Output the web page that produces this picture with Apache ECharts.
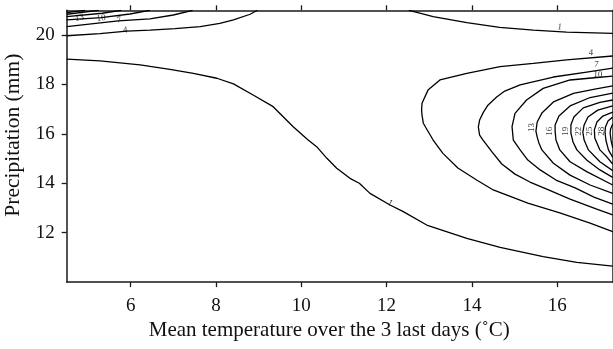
<!DOCTYPE html>
<html>
<head>
<meta charset="utf-8">
<script src="https://cdn.jsdelivr.net/npm/echarts@6/dist/echarts.min.js"></script>
<style>html,body{margin:0;padding:0;background:#fff;}#c{width:613px;height:349px;}</style>
</head>
<body>
<div id="c"></div>
<script>
// ---- data ----
const xTicks = [6, 8, 10, 12, 14, 16];
const yTicks = [12, 14, 16, 18, 20];
const xRange = [4.5, 17.3];
const yRange = [10, 21];

// contour polylines, [temperature, precipitation]
const contour1Lower = [[4.50,19.02],[5.28,18.95],[6.22,18.79],[6.92,18.61],[7.47,18.45],[8.02,18.25],[8.41,18.02],[8.87,17.57],[9.34,17.10],[9.81,16.29],[10.16,15.75],[10.36,15.48],[10.60,15.01],[10.83,14.61],[11.14,14.20],[11.36,14.00],[11.61,13.59],[12.08,13.12],[12.39,12.85],[12.94,12.31],[13.88,11.77],[14.66,11.41],[15.67,11.03],[16.46,10.80],[17.30,10.65]];
const contour1Upper = [[12.52,21.00],[12.80,20.88],[13.09,20.74],[13.88,20.50],[14.65,20.31],[15.44,20.20],[16.22,20.12],[17.30,20.07]];
const contour4Right = [[17.30,19.15],[16.22,18.99],[15.44,18.85],[14.66,18.72],[13.88,18.45],[13.25,18.18],[12.97,17.77],[12.83,17.24],[12.82,16.96],[12.83,16.76],[12.86,16.43],[13.09,15.75],[13.32,15.21],[13.67,14.62],[14.11,14.13],[14.50,13.73],[15.31,13.20],[16.06,12.80],[16.77,12.39],[17.30,12.04]];
const contour7Right = [[17.30,18.66],[16.69,18.50],[15.91,18.30],[15.13,17.98],[14.77,17.73],[14.58,17.49],[14.38,17.17],[14.27,16.88],[14.18,16.56],[14.15,16.28],[14.18,15.95],[14.26,15.75],[14.47,15.27],[14.70,14.78],[15.01,14.37],[15.36,14.05],[15.74,13.77],[16.30,13.36],[16.91,12.96],[17.30,12.72]];
const contour10Right = [[17.30,18.34],[16.93,18.28],[16.30,18.18],[15.67,17.84],[15.28,17.37],[15.01,16.83],[14.94,16.29],[14.97,15.75],[15.13,15.35],[15.31,14.94],[15.60,14.54],[15.97,14.13],[16.42,13.81],[16.86,13.44],[17.30,13.16]];
const contour13Right = [[17.30,17.94],[16.88,17.81],[16.38,17.64],[15.91,17.29],[15.64,16.84],[15.53,16.48],[15.50,16.11],[15.53,15.87],[15.57,15.63],[15.64,15.35],[15.91,14.81],[16.30,14.33],[16.77,13.93],[17.30,13.59]];
const contour16Right = [[17.30,17.65],[16.77,17.47],[16.30,17.13],[16.04,16.72],[15.95,16.36],[15.95,16.11],[15.97,15.75],[16.06,15.35],[16.30,14.87],[16.69,14.47],[17.30,13.93]];
const contour19Right = [[17.30,17.37],[17.00,17.27],[16.61,17.05],[16.39,16.68],[16.32,16.36],[16.32,16.03],[16.37,15.67],[16.46,15.35],[16.69,14.94],[17.00,14.54],[17.30,14.24]];
const contour22Right = [[17.30,17.13],[16.95,16.96],[16.72,16.68],[16.63,16.36],[16.60,16.07],[16.63,15.75],[16.73,15.35],[17.00,14.87],[17.30,14.51]];
const contour25Right = [[17.30,16.88],[17.07,16.72],[16.93,16.48],[16.87,16.16],[16.88,15.83],[17.00,15.35],[17.16,15.07],[17.30,14.78]];
const contour28Right = [[17.30,16.68],[17.19,16.52],[17.13,16.28],[17.12,16.07],[17.14,15.75],[17.20,15.35],[17.30,15.05]];
const contour31Right = [[17.30,16.40],[17.25,16.20],[17.24,16.03],[17.26,15.75],[17.30,15.43]];
const contour4Left = [[4.50,19.97],[5.28,20.06],[5.91,20.16],[6.45,20.20],[7.04,20.26],[7.63,20.34],[8.09,20.47],[8.41,20.61],[8.80,20.84],[8.97,21.00]];
const contour7Left = [[4.50,20.34],[5.71,20.57],[6.45,20.65],[7.00,20.81],[7.45,21.00]];
const contour10Left = [[4.50,20.61],[5.31,20.70],[5.98,20.85],[6.45,21.00]];
const contour13Left = [[4.50,20.74],[5.33,20.88],[5.78,21.00]];
const contour16Left = [[4.50,20.84],[5.25,21.00]];
const contour19Left = [[4.50,20.91],[4.93,21.00]];

// contour labels: [temperature, precipitation, text]
const contourLabels = [
  [12.08,13.20,'1'],[16.06,20.32,'1'],[16.79,19.28,'4'],[16.92,18.81,'7'],[16.95,18.40,'10'],
  [15.40,16.26,'13'],[15.81,16.11,'16'],[16.19,16.11,'19'],[16.50,16.11,'22'],[16.76,16.11,'25'],[17.03,16.11,'28'],
  [4.80,20.70,'13'],[5.31,20.68,'10'],[5.73,20.61,'7'],[5.87,20.20,'4']
];
const contourLabelAngles = [-29,-5,-3,-3,-3,90,90,90,90,90,90,8,8,10,6];

// ---- chart ----
const contours = [contour1Lower, contour1Upper, contour4Right, contour7Right, contour10Right, contour13Right,
  contour16Right, contour19Right, contour22Right, contour25Right, contour28Right, contour31Right,
  contour4Left, contour7Left, contour10Left, contour13Left, contour16Left, contour19Left];

const FONT = '"Liberation Serif", "DejaVu Serif", serif';
const axisCol = '#1a1a1a';

const series = contours.map(c => ({
  type: 'line', data: c, showSymbol: false, symbol: 'none', silent: true, animation: false,
  lineStyle: { color: '#000', width: 1.3 }, clip: true, z: 2
}));
series.push({
  type: 'scatter', symbolSize: 0, silent: true, animation: false, z: 5,
  data: contourLabels.map((l, i) => ({
    value: [l[0], l[1]], name: l[2],
    label: { rotate: contourLabelAngles[i] }
  })),
  label: {
    show: true, position: 'inside', formatter: p => p.name,
    fontFamily: FONT, fontSize: 9, color: '#000', padding: 0
  }
});

const baseX = {
  type: 'value', min: xRange[0], max: xRange[1],
  axisLine: { show: true, onZero: false, lineStyle: { color: axisCol, width: 1.5 } },
  axisTick: { show: true, inside: false, length: 5, customValues: xTicks, lineStyle: { color: axisCol, width: 1.3 } },
  splitLine: { show: false }
};
const baseY = {
  type: 'value', min: yRange[0], max: yRange[1],
  axisLine: { show: true, onZero: false, lineStyle: { color: axisCol, width: 1.5 } },
  axisTick: { show: true, inside: false, length: 5, customValues: yTicks, lineStyle: { color: axisCol, width: 1.3 } },
  splitLine: { show: false }
};

const chart = echarts.init(document.getElementById('c'), null, { renderer: 'canvas' });
chart.setOption({
  animation: false,
  backgroundColor: '#fff',
  grid: { left: 66.7, right: 0.3, top: 10.3, bottom: 66.9, containLabel: false, outerBoundsMode: 'none' },
  xAxis: [
    Object.assign({}, baseX, {
      position: 'bottom',
      axisLabel: { show: true, customValues: xTicks, margin: 14, fontFamily: FONT, fontSize: 19, color: '#111' },
      name: 'Mean temperature over the 3 last days (˚C)', nameLocation: 'middle', nameGap: 36,
      nameTextStyle: { fontFamily: FONT, fontSize: 21, color: '#111', padding: [0, 21, 0, 0] }
    }),
    Object.assign({}, baseX, { position: 'top', axisLabel: { show: false } })
  ],
  yAxis: [
    Object.assign({}, baseY, {
      position: 'left',
      axisLabel: { show: true, customValues: yTicks, margin: 12, fontFamily: FONT, fontSize: 19, color: '#111' },
      name: 'Precipitation (mm)', nameLocation: 'middle', nameGap: 40,
      nameTextStyle: { fontFamily: FONT, fontSize: 21.5, color: '#111', padding: [0, 0, 0, 22] }
    }),
    Object.assign({}, baseY, { position: 'right', axisLabel: { show: false } })
  ],
  series: series
});
</script>
</body>
</html>
